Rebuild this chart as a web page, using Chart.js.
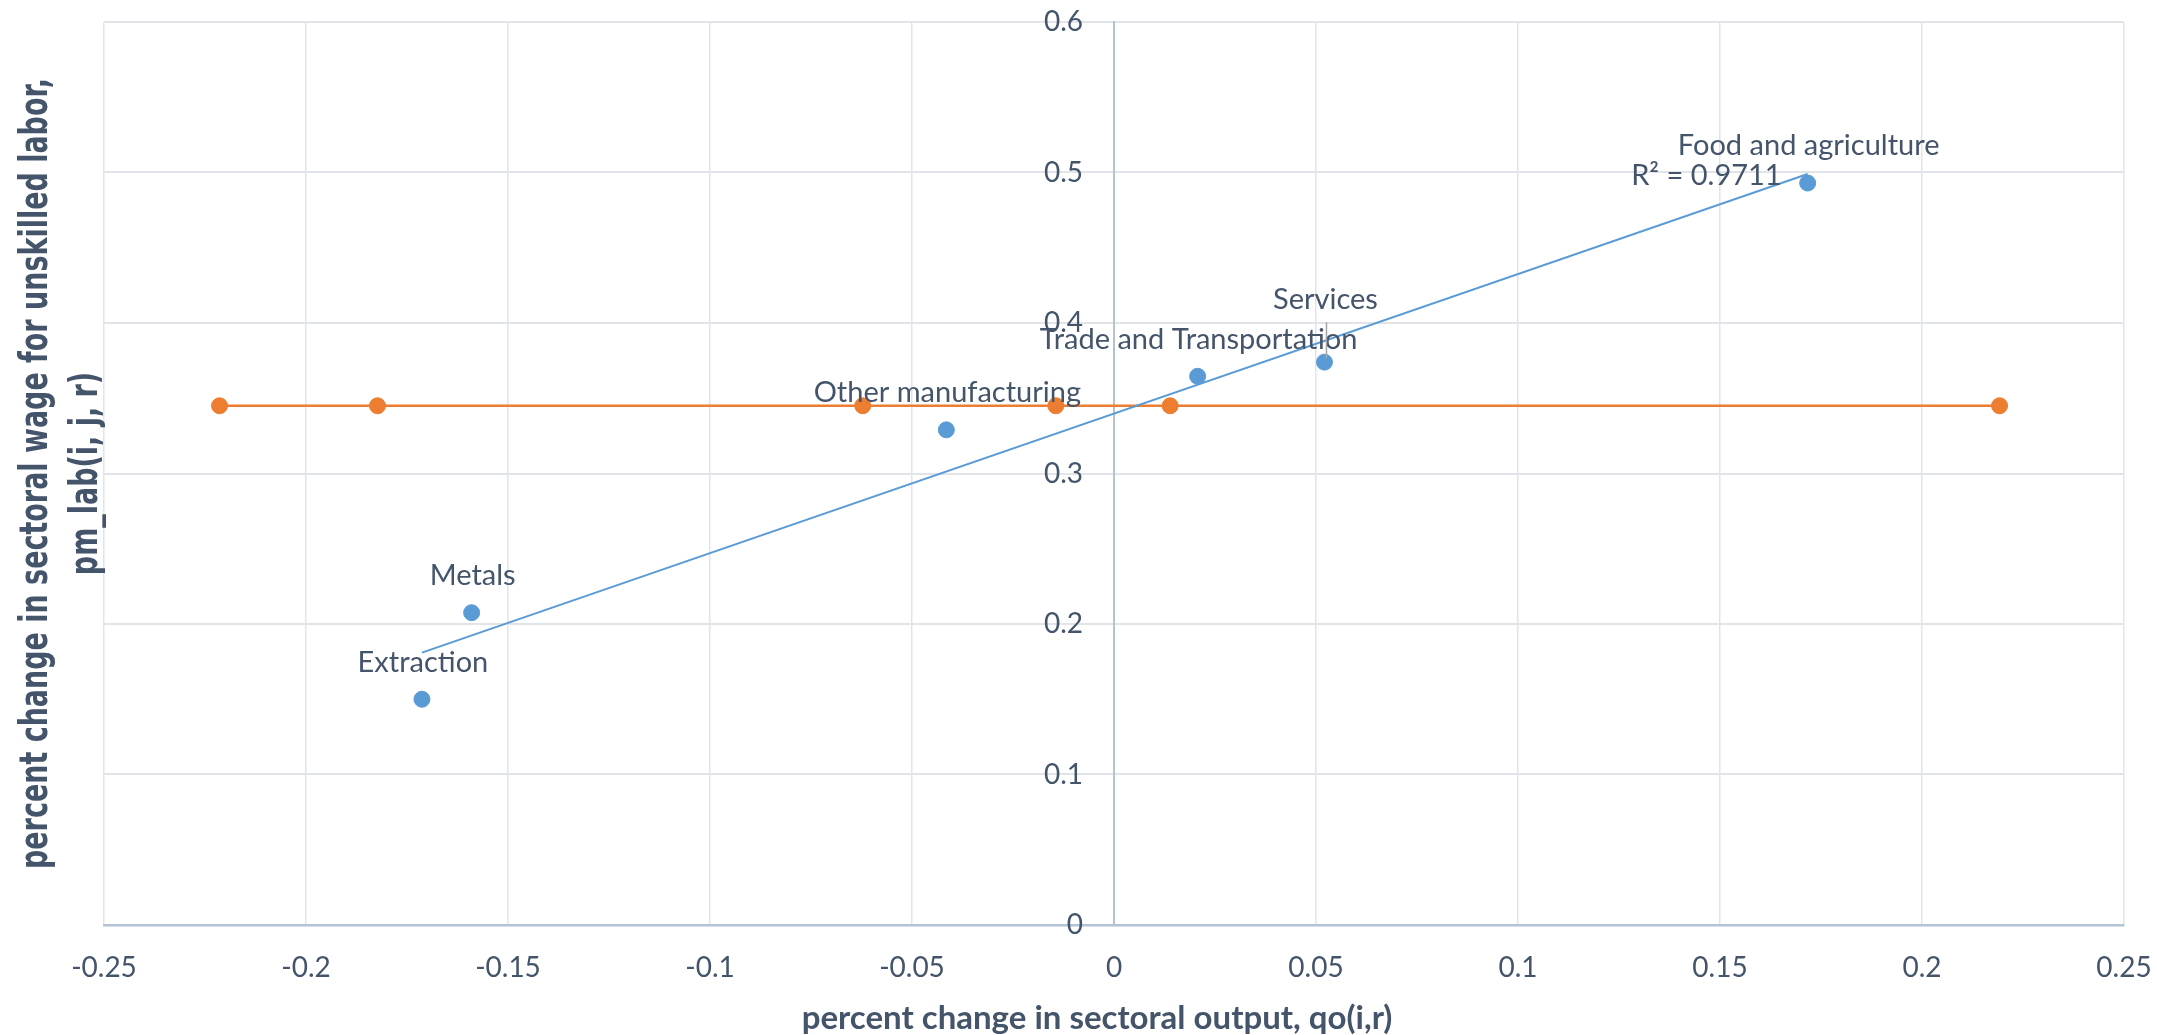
<!DOCTYPE html>
<html>
<head>
<meta charset="utf-8">
<title>Sectoral wage vs output</title>
<script src="https://cdn.jsdelivr.net/npm/chart.js@4.4.1/dist/chart.umd.min.js"></script>
<style>
  html, body { margin: 0; padding: 0; background: #ffffff; }
  #wrap { width: 2157px; height: 1035px; }
</style>
</head>
<body>
<div id="wrap"><canvas id="scatterChart" width="2157" height="1035"></canvas></div>
<script>
// sectors (blue points)
const sectors = ["Extraction", "Metals", "Other manufacturing", "Trade and Transportation", "Services", "Food and agriculture"];
const sectorOutput = [-0.1713, -0.159, -0.0415, 0.0207, 0.0521, 0.1717];
const sectorWage = [0.150, 0.2075, 0.329, 0.3646, 0.374, 0.493];

// orange reference line
const refOutput = [-0.2214, -0.1823, -0.0622, -0.0144, 0.0139, 0.2192];
const refWage = [0.345, 0.345, 0.345, 0.345, 0.345, 0.345];

// linear trendline as drawn (end points)
const trendOutput = [-0.1713, 0.1717];
const trendWage = [0.181, 0.499];
const rSquaredText = "R² = 0.9711";

const xTicks = [-0.25, -0.2, -0.15, -0.1, -0.05, 0, 0.05, 0.1, 0.15, 0.2, 0.25];
const yTicks = [0, 0.1, 0.2, 0.3, 0.4, 0.5, 0.6];

const xTitle = "percent change in sectoral output, qo(i,r)";
const yTitle = ["percent change in sectoral wage for unskilled labor,", "pm_lab(i, j, r)"];

const textColor = "#44546A";
const gridColor = "#E1E4E9";
const axisColor = "#B4C2D6";
const blue = "#5B9BD5";
const orange = "#ED7D31";

Chart.defaults.font.family = "Lato, 'Open Sans', sans-serif";

function toPoints(xs, ys) {
    return xs.map((x, i) => ({ x: x, y: ys[i] }));
}

const labelPlugin = {
    id: "pointLabels",
    afterDatasetsDraw(chart) {
        const ctx = chart.ctx;
        const meta = chart.getDatasetMeta(0);
        ctx.save();
        ctx.font = "29px Lato";
        ctx.fillStyle = textColor;
        ctx.textAlign = "center";
        ctx.textBaseline = "middle";
        meta.data.forEach((pt, i) => {
            let lift = 37;
            if (sectors[i] === "Services") {
                lift = 62;
                ctx.strokeStyle = "#A6A6A6";
                ctx.lineWidth = 1.5;
                ctx.beginPath();
                ctx.moveTo(pt.x + 2, pt.y - 4);
                ctx.lineTo(pt.x + 2, pt.y - 40);
                ctx.stroke();
            }
            ctx.fillText(sectors[i], pt.x + 1, pt.y - lift);
        });

        const trend = chart.getDatasetMeta(2).data;
        const end = trend[trend.length - 1];
        ctx.textAlign = "right";
        ctx.fillText(rSquaredText, end.x - 26, end.y + 2);
        ctx.restore();
    }
};

// y tick labels sit just left of the vertical axis at x = 0
const yLabelPlugin = {
    id: "yAxisLabels",
    afterDraw(chart) {
        const ctx = chart.ctx;
        const xScale = chart.scales.x;
        const yScale = chart.scales.y;
        const axisX = xScale.getPixelForValue(0);
        ctx.save();
        ctx.font = "28px Lato";
        ctx.fillStyle = textColor;
        ctx.textAlign = "right";
        ctx.textBaseline = "middle";
        yTicks.forEach((v) => {
            ctx.fillText(String(v), axisX - 31, yScale.getPixelForValue(v));
        });
        ctx.restore();
    }
};

const titlePlugin = {
    id: "axisTitles",
    afterDraw(chart) {
        const ctx = chart.ctx;
        const area = chart.chartArea;
        ctx.save();
        ctx.fillStyle = textColor;

        // x title
        ctx.font = "bold 33px Lato";
        ctx.textAlign = "center";
        ctx.textBaseline = "middle";
        ctx.fillText(xTitle, (area.left + area.right) / 2 - 17, 1018);

        // y title, two rotated lines
        ctx.font = "bold 39px 'DejaVu Sans'";
        ctx.textBaseline = "alphabetic";
        const fullLen = ctx.measureText(yTitle[0]).width;
        const squeeze = 791 / fullLen;
        const midY = (area.top + area.bottom) / 2;
        const baselines = [47, 97];
        yTitle.forEach((line, i) => {
            ctx.save();
            ctx.translate(baselines[i], midY);
            ctx.rotate(-Math.PI / 2);
            ctx.scale(squeeze, 1);
            ctx.fillText(line, 0, 0);
            ctx.restore();
        });
        ctx.restore();
    }
};

const ctx = document.getElementById("scatterChart").getContext("2d");
new Chart(ctx, {
    type: "scatter",
    data: {
        datasets: [
            {
                label: "Sectors",
                data: toPoints(sectorOutput, sectorWage),
                showLine: false,
                pointRadius: 8,
                pointBackgroundColor: blue,
                pointBorderColor: blue,
                pointBorderWidth: 1,
                order: 0
            },
            {
                label: "Reference",
                data: toPoints(refOutput, refWage),
                showLine: true,
                borderColor: orange,
                borderWidth: 2.5,
                pointRadius: 8,
                pointBackgroundColor: orange,
                pointBorderColor: orange,
                pointBorderWidth: 1,
                order: 2
            },
            {
                label: "Linear trend",
                data: toPoints(trendOutput, trendWage),
                showLine: true,
                borderColor: blue,
                borderWidth: 2,
                pointRadius: 0,
                order: 1
            }
        ]
    },
    options: {
        responsive: false,
        animation: false,
        layout: { padding: { left: 104, right: 33, top: 22, bottom: 0 } },
        plugins: {
            legend: { display: false },
            tooltip: { enabled: false }
        },
        scales: {
            x: {
                type: "linear",
                min: -0.25,
                max: 0.25,
                afterBuildTicks: (scale) => { scale.ticks = xTicks.map(v => ({ value: v })); },
                afterFit: (scale) => {
                    scale.height = 110;
                    scale.paddingLeft = 0;
                    scale.paddingRight = 0;
                },
                ticks: {
                    padding: 26,
                    color: textColor,
                    font: { size: 28 },
                    maxRotation: 0,
                    autoSkip: false,
                    callback: (v) => String(v)
                },
                grid: { color: gridColor, lineWidth: 1.5, drawTicks: false },
                border: { color: axisColor, width: 2.5 }
            },
            y: {
                type: "linear",
                min: 0,
                max: 0.6,
                position: { x: 0 },
                afterBuildTicks: (scale) => { scale.ticks = yTicks.map(v => ({ value: v })); },
                afterFit: (scale) => {
                    scale.paddingTop = 0;
                    scale.paddingBottom = 0;
                },
                ticks: { display: false },
                grid: { color: gridColor, lineWidth: 2, drawTicks: false },
                border: { color: axisColor, width: 2 }
            }
        }
    },
    plugins: [labelPlugin, yLabelPlugin, titlePlugin]
});
</script>
</body>
</html>
